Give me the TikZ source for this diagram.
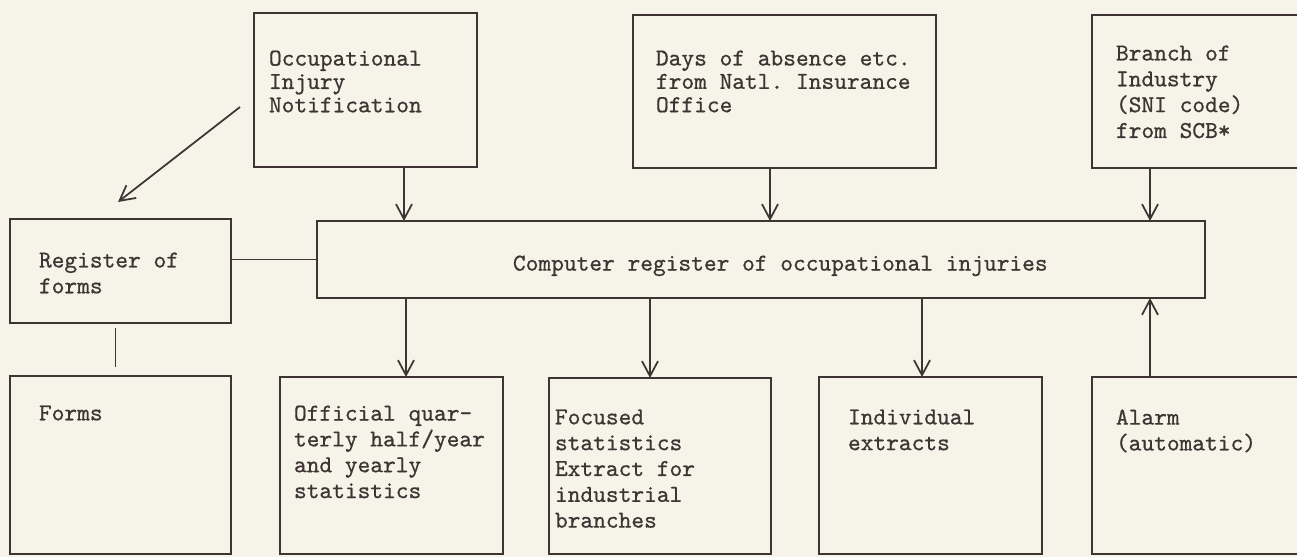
\documentclass[tikz,border=0pt]{standalone}
\usepackage{fontspec}
\setmonofont{lmmono10-regular.otf}[FakeBold=0.7]
\usepackage{tikz}
\usetikzlibrary{arrows.meta,calc}
\definecolor{PaperCream}{HTML}{F6F4E9}
\definecolor{InkGrey}{HTML}{3E3434}
\newlength{\unitpx}
\setlength{\unitpx}{0.02cm}
\newcommand{\boxtext}[5]{%
  \parbox[t][#2\unitpx][t]{#1\unitpx}{\vspace*{#4\unitpx}\raggedright\leftskip=#3\unitpx\relax #5}}

\begin{document}
\begin{tikzpicture}[
  x=0.02cm,
  y=-0.02cm,
  font=\fontsize{13.8pt}{14.7pt}\selectfont\ttfamily,
  regbox/.style={
    draw=InkGrey,
    line width=1pt,
    anchor=north west,
    inner sep=0pt,
    outer sep=0pt,
    text=InkGrey
  },
  tight/.style={font=\fontsize{13.8pt}{13.3pt}\selectfont\ttfamily},
  flow/.style={-{Straight Barb[length=0.3cm,width=0.32cm]},draw=InkGrey,line width=1pt},
  link/.style={draw=InkGrey,line width=1pt}
]
\useasboundingbox (0,0) rectangle (1297,557);
\clip (0,0) rectangle (1297,557);
\fill[PaperCream] (0,0) rectangle (1297,557);

\node[regbox,tight] (occ) at (254,13)
  {\boxtext{223}{154}{15}{37.5}{Occupational\\Injury\\Notification}};
\node[regbox,tight] (days) at (633,15)
  {\boxtext{303}{153}{23}{35.5}{Days of absence etc.\\from Natl.\ Insurance\\Office}};
\node[regbox] (branch) at (1092,15)
  {\boxtext{218}{153}{24}{30.5}{Branch of\\Industry\\(SNI code)\\from SCB*}};

\node[regbox] (reg) at (10,219)
  {\boxtext{221}{104}{29}{33.5}{Register of\\forms}};
\node[regbox] (comp) at (317,221)
  {\boxtext{888}{77}{196}{34.5}{Computer register of occupational injuries}};

\node[regbox] (forms) at (10,376)
  {\boxtext{221}{178}{29}{29.5}{Forms}};
\node[regbox] (offic) at (280,377)
  {\boxtext{223}{177}{14}{28.5}{Official quar-\\terly half/year\\and yearly\\statistics}};
\node[regbox] (focus) at (549,378)
  {\boxtext{222}{176}{6}{31.5}{Focused\\statistics\\Extract for\\industrial\\branches}};
\node[regbox] (indiv) at (819,377)
  {\boxtext{223}{177}{29}{32.5}{Individual\\extracts}};
\node[regbox] (alarm) at (1092,377)
  {\boxtext{218}{177}{24}{32.5}{Alarm\\(automatic)}};

\coordinate (occtap) at ([xshift=150\unitpx]occ.south west);
\coordinate (daystap) at ([xshift=137\unitpx]days.south west);
\coordinate (branchtap) at ([xshift=58\unitpx]branch.south west);
\coordinate (offictap) at ([xshift=89\unitpx]comp.south west);
\coordinate (focustap) at ([xshift=333\unitpx]comp.south west);
\coordinate (indivtap) at ([xshift=605\unitpx]comp.south west);
\coordinate (alarmtap) at ([xshift=58\unitpx]alarm.north west);

\draw[flow] ([shift={(-14,-60)}]occ.south west) -- ([shift={(108,-17)}]reg.north west);
\draw[flow] (occtap) -- (occtap |- comp.north);
\draw[flow] (daystap) -- (daystap |- comp.north);
\draw[flow] (branchtap) -- (branchtap |- comp.north);
\draw[link] (reg.east |- comp.west) -- (comp.west);
\draw[link,shorten <=5\unitpx,shorten >=9\unitpx]
  ([xshift=-5\unitpx]reg.south) -- ([xshift=-5\unitpx]forms.north);
\draw[flow] (offictap) -- (offictap |- offic.north);
\draw[flow] (focustap) -- (focustap |- focus.north);
\draw[flow] (indivtap) -- (indivtap |- indiv.north);
\draw[flow] (alarmtap) -- (alarmtap |- comp.south);
\end{tikzpicture}
\end{document}
